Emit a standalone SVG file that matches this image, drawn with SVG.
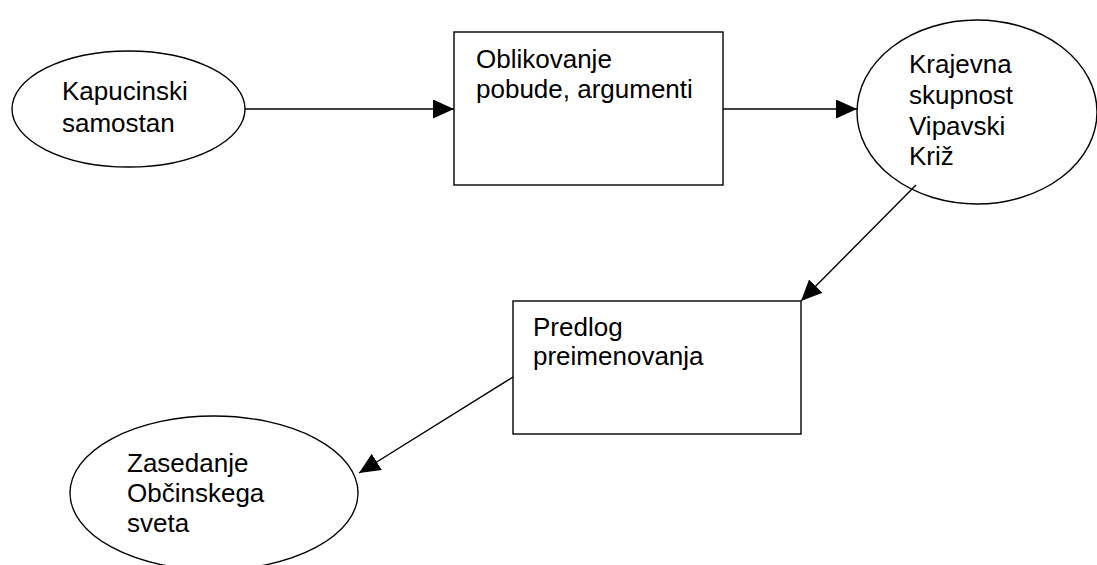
<svg xmlns="http://www.w3.org/2000/svg" width="1097" height="565" viewBox="0 0 1097 565">
<style>
.shape{fill:#fff;stroke:#000;stroke-width:1.4}
.lbl{font-family:"Liberation Sans",Arial,sans-serif;font-size:26px;fill:#000}
.conn{stroke:#000;stroke-width:1.4;fill:none;marker-end:url(#ah)}
</style>
<defs>
<marker id="ah" markerUnits="userSpaceOnUse" markerWidth="22" markerHeight="20" refX="21" refY="9.5" orient="auto" viewBox="0 0 22 20">
<path d="M0,0 L21,9.5 L0,19 z" fill="#000"/>
</marker>
</defs>
<rect width="1097" height="565" fill="#fff"/>
<g id="n1">
<ellipse class="shape" cx="128.5" cy="109" rx="116.5" ry="58"/>
<text class="lbl" x="62" y="100">Kapucinski</text>
<text class="lbl" x="62" y="132">samostan</text>
</g>
<g id="n2">
<rect class="shape" x="454" y="32" width="269" height="153"/>
<text class="lbl" x="476" y="68">Oblikovanje</text>
<text class="lbl" x="476" y="98">pobude, argumenti</text>
</g>
<g id="n3">
<ellipse class="shape" cx="977" cy="112" rx="120" ry="92"/>
<text class="lbl" x="909" y="73">Krajevna</text>
<text class="lbl" x="909" y="104">skupnost</text>
<text class="lbl" x="909" y="135">Vipavski</text>
<text class="lbl" x="909" y="165">Križ</text>
</g>
<g id="n4">
<rect class="shape" x="513" y="301" width="288" height="133"/>
<text class="lbl" x="533" y="336">Predlog</text>
<text class="lbl" x="533" y="365">preimenovanja</text>
</g>
<g id="n5">
<ellipse class="shape" cx="214" cy="493" rx="144" ry="77"/>
<text class="lbl" x="127" y="472">Zasedanje</text>
<text class="lbl" x="127" y="502">Občinskega</text>
<text class="lbl" x="127" y="532">sveta</text>
</g>
<g id="connectors">
<line class="conn" x1="245" y1="109" x2="454" y2="109"/>
<line class="conn" x1="723" y1="109" x2="857" y2="109"/>
<line class="conn" x1="916" y1="185" x2="801" y2="301"/>
<line class="conn" x1="513" y1="377" x2="359" y2="473"/>
</g>
</svg>
